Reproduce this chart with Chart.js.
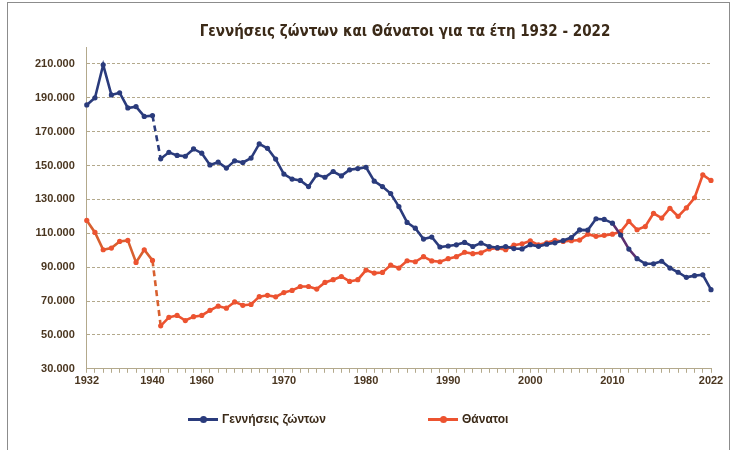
<!DOCTYPE html>
<html>
<head>
<meta charset="utf-8">
<script src="https://cdn.jsdelivr.net/npm/chart.js@4.4.1/dist/chart.umd.min.js"></script>
<style>
  html, body { margin: 0; padding: 0; background: #fff; }
  #wrap { position: relative; width: 733px; height: 450px; overflow: hidden; }
  #frame { position: absolute; left: 7px; top: 2px; width: 721px; height: 470px; border: 1px solid #8c8c8c; pointer-events: none; }
  #title { position: absolute; left: 0; width: 810px; top: 22px; text-align: center;
    font: bold 15px "Liberation Sans Narrow", "DejaVu Sans Condensed", sans-serif; color: #3b2a18; }
  .leg { position: absolute; top: 412px; font: bold 12px "Liberation Sans", sans-serif; color: #3b2a18;
    display: flex; align-items: center; white-space: nowrap; }
  .leg i { position: relative; display: inline-block; width: 30px; height: 3px; margin-right: 4px; }
  .leg i::after { content: ''; position: absolute; left: 12px; top: -2px; width: 7px; height: 7px; border-radius: 50%; background: inherit; }
</style>
</head>
<body>
<div id="wrap">
  <canvas id="chart" width="733" height="450"></canvas>
  <div id="title">Γεννήσεις ζώντων και Θάνατοι για τα έτη 1932 - 2022</div>
  <div class="leg" style="left:188px"><i style="background:#2a3b7c"></i>Γεννήσεις ζώντων</div>
  <div class="leg" style="left:428px"><i style="background:#ec5330"></i>Θάνατοι</div>
  <div id="frame"></div>
</div>
<script>
'use strict';

// years in the source table: 1932-1940, then a gap until 1955
const years = [
  1932, 1933, 1934, 1935, 1936, 1937, 1938, 1939, 1940,
  1955, 1956, 1957, 1958, 1959, 1960, 1961, 1962, 1963, 1964, 1965, 1966, 1967, 1968, 1969,
  1970, 1971, 1972, 1973, 1974, 1975, 1976, 1977, 1978, 1979, 1980, 1981, 1982, 1983, 1984,
  1985, 1986, 1987, 1988, 1989, 1990, 1991, 1992, 1993, 1994, 1995, 1996, 1997, 1998, 1999,
  2000, 2001, 2002, 2003, 2004, 2005, 2006, 2007, 2008, 2009, 2010, 2011, 2012, 2013, 2014,
  2015, 2016, 2017, 2018, 2019, 2020, 2021, 2022,
];

const births = [
  185800, 190000, 209500, 191700, 193000, 184000, 184800, 179000, 179500,
  154000, 157800, 156000, 155500, 159800, 157300, 150400, 152000, 148500, 152800, 151800, 154400, 162800, 160200, 153800,
  145000, 142000, 141200, 137600, 144500, 143100, 146500, 143900, 147500, 148200, 149000, 140800, 137600, 133500, 125800,
  116400, 113000, 106600, 107800, 101900, 102500, 103200, 104600, 102200, 104200, 102200, 101500, 102200, 101000, 100800,
  103300, 102300, 103600, 104400, 105700, 107500, 112000, 111900, 118600, 118200, 116000, 109000, 100700, 95000, 92000,
  92000, 93500, 89500, 87000, 84000, 85000, 85500, 76700,
];

const deaths = [
  117600, 110500, 100300, 101300, 105200, 105800, 92800, 100300, 94000,
  55400, 60400, 61500, 58500, 60800, 61500, 64500, 67000, 65800, 69500, 67500, 68000, 72600, 73400, 72500,
  75000, 76300, 78600, 78600, 77100, 81000, 82600, 84500, 81600, 82600, 88300, 86500, 86900, 91200, 89500,
  93800, 93200, 96200, 93700, 93200, 95000, 96200, 98800, 98000, 98500, 100800, 101200, 100300, 103000, 103800,
  105500, 103200, 104400, 105800, 105200, 105600, 106000, 109500, 108200, 108800, 109500, 111000, 117000, 112100, 114000,
  121800, 119000, 124800, 120000, 125000, 131000, 144500, 141200,
];

const tickYears = [1932, 1940, 1960, 1970, 1980, 1990, 2000, 2010, 2022];
const yTicks = [30000, 50000, 70000, 90000, 110000, 130000, 150000, 170000, 190000, 210000];

const BIRTH = '#2a3b7c';
const DEATH = '#ec5330';
const GRID = '#b3a98c';
const TXT = '#4a3620';
const FONT = { family: '"Liberation Sans", sans-serif', size: 11, weight: 'bold' };

const gapIdx = years.indexOf(1940);

function fmt(v) {
  return String(v).replace(/\B(?=(\d{3})+(?!\d))/g, '.');
}

const dashGap = (c) => (c.p0DataIndex === gapIdx ? [6, 4] : undefined);

new Chart(document.getElementById('chart'), {
  type: 'line',
  data: {
    labels: years,
    datasets: [
      {
        label: 'Γεννήσεις ζώντων',
        data: births,
        borderColor: BIRTH,
        backgroundColor: BIRTH,
        borderWidth: 2.6,
        pointRadius: 2.6,
        pointBorderWidth: 0,
        tension: 0,
        segment: {
          borderDash: dashGap,
          borderColor: (c) => {
            const y = years[c.p0DataIndex];
            return y >= 2010 && y < 2013 ? '#5c3070' : undefined;
          },
        },
      },
      {
        label: 'Θάνατοι',
        data: deaths,
        borderColor: DEATH,
        backgroundColor: DEATH,
        borderWidth: 2.6,
        pointRadius: 2.6,
        pointBorderWidth: 0,
        tension: 0,
        segment: {
          borderDash: dashGap,
          borderColor: (c) => (c.p0DataIndex <= gapIdx ? '#d8602f' : undefined),
        },
      },
    ],
  },
  options: {
    responsive: false,
    animation: false,
    layout: { padding: { left: 23, right: 22, top: 47, bottom: 60 } },
    plugins: { legend: { display: false }, title: { display: false }, tooltip: { enabled: false } },
    scales: {
      x: {
        type: 'category',
        offset: false,
        grid: { drawOnChartArea: false, color: GRID, tickLength: 4 },
        border: { color: GRID },
        ticks: {
          autoSkip: false,
          maxRotation: 0,
          color: TXT,
          font: FONT,
          padding: 2,
          callback: (v, i) => (tickYears.includes(years[i]) ? String(years[i]) : ''),
        },
      },
      y: {
        min: 30000,
        max: 220000,
        afterBuildTicks: (s) => {
          s.ticks = yTicks.map((v) => ({ value: v }));
        },
        grid: { color: GRID, drawTicks: false },
        border: { color: GRID, dash: [3, 2] },
        ticks: { color: TXT, font: FONT, padding: 12, callback: (v) => fmt(v) },
      },
    },
  },
});
</script>
</body>
</html>
